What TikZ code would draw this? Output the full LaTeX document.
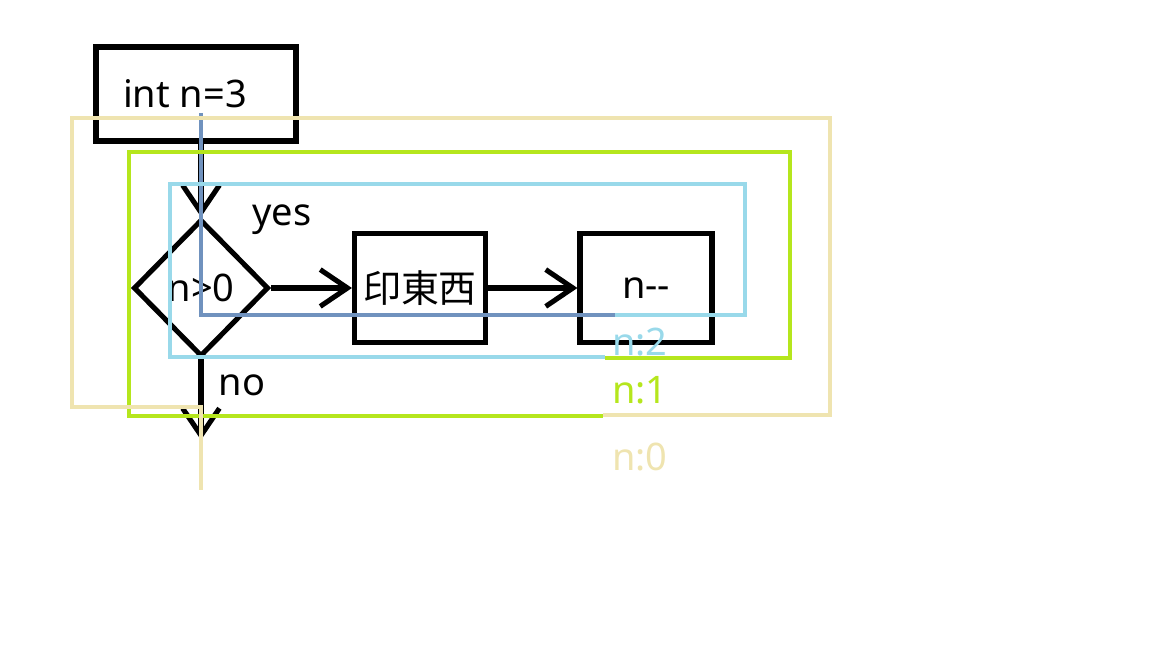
\documentclass[tikz,border=0pt]{standalone}
\usepackage{fontspec}
\setmainfont{Noto Sans}
\newfontfamily\cjk{Noto Sans CJK TC}
\usetikzlibrary{shapes.geometric,arrows.meta}
\definecolor{stepblue}{HTML}{7092BE}
\definecolor{skyblue}{HTML}{99D9EA}
\definecolor{limegreen}{HTML}{B5E61D}
\definecolor{sandbeige}{HTML}{EFE4B0}
\begin{document}
\begin{tikzpicture}[x=0.025cm,y=-0.025cm,
  txt/.style={font=\fontsize{27}{32}\selectfont,inner sep=0pt},
  box/.style={draw,line width=3.6pt,txt},
  arr/.style={line width=3.6pt,-{Straight Barb[length=0.68cm,width=0.92cm]}},
  trace/.style={line width=3pt,draw=#1}]
\useasboundingbox (0,0) rectangle (1152,648);
\node[box,minimum width=5cm,minimum height=2.35cm] (init) at (196,94) {int n=3\kern0.55cm};
\node[box,diamond,minimum width=3.375cm,minimum height=3.425cm] (test) at (201,288) {n>0};
\node[box,minimum width=3.275cm,minimum height=2.725cm] (print) at (420,288) {\cjk 印東西};
\node[box,minimum width=3.3cm,minimum height=2.725cm] (dec) at (646,288) {n-{}-};
\coordinate (exit) at (201,440);
\draw[arr] (init.south -| test.north) -- (test.north);
\draw[arr] (test.east) -- (print.west);
\draw[arr] (print.east) -- (dec.west);
\draw[arr] (test.south) -- (exit);
\node[txt] (yes) at (282,220) {yes};
\node[txt] (no) at (242,385) {no};
\draw[trace=stepblue] (201,113) -- (201,315) -- (615,315);
\draw[trace=skyblue] (615,315) -- (745,315) -- (745,184) -- (170,184) -- (170,357) -- (605,357);
\draw[trace=limegreen] (605,358) -- (790,358) -- (790,152) -- (129,152) -- (129,416) -- (603,416);
\draw[trace=sandbeige] (603,415) -- (830,415) -- (830,118) -- (72,118) -- (72,407) -- (201,407) -- (201,490);
\node[txt,text=skyblue] (two) at (640,342) {n:2};
\node[txt,text=limegreen] (one) at (640,390) {n:1};
\node[txt,text=sandbeige] (zero) at (640,457) {n:0};
\end{tikzpicture}
\end{document}
